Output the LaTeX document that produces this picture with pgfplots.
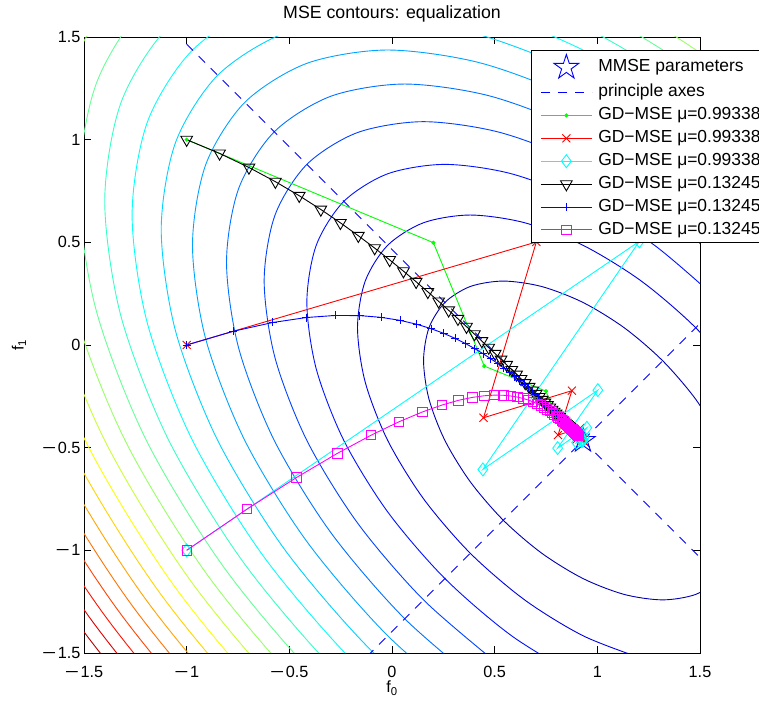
\documentclass[border=0pt]{standalone}
\usepackage{fontspec}
\setmainfont{Liberation Sans}
\usepackage{graphicx}
\usepackage{pgfplots}
\pgfplotsset{compat=1.18}
\usetikzlibrary{plotmarks}

\definecolor{c1}{rgb}{0,0,0.690}
\definecolor{c2}{rgb}{0,0,0.881}
\definecolor{c3}{rgb}{0,0.071,1}
\definecolor{c4}{rgb}{0,0.262,1}
\definecolor{c5}{rgb}{0,0.452,1}
\definecolor{c6}{rgb}{0,0.643,1}
\definecolor{c7}{rgb}{0,0.833,1}
\definecolor{c8}{rgb}{0.024,1,0.976}
\definecolor{c9}{rgb}{0.214,1,0.786}
\definecolor{c10}{rgb}{0.405,1,0.595}
\definecolor{c11}{rgb}{0.595,1,0.405}
\definecolor{c12}{rgb}{0.786,1,0.214}
\definecolor{c13}{rgb}{0.976,1,0.024}
\definecolor{c14}{rgb}{1,0.833,0}
\definecolor{c15}{rgb}{1,0.643,0}
\definecolor{c16}{rgb}{1,0.452,0}
\definecolor{c17}{rgb}{1,0.262,0}
\definecolor{c18}{rgb}{1,0.071,0}
\definecolor{c19}{rgb}{0.881,0,0}
\definecolor{c20}{rgb}{0.690,0,0}
\definecolor{mgreen}{rgb}{0,1,0}
\definecolor{mred}{rgb}{1,0,0}
\definecolor{mcyan}{rgb}{0,1,1}
\definecolor{mblue}{rgb}{0,0,1}
\definecolor{mmagenta}{rgb}{1,0,1}

\newcommand{\mn}{\scalebox{1.5}[1]{−}\hspace{1.5bp}}

\pgfdeclareplotmark{pentagram}{%
  \pgfpathmoveto{\pgfqpointpolar{90}{\pgfplotmarksize}}%
  \pgfpathlineto{\pgfqpointpolar{126}{0.382\pgfplotmarksize}}%
  \pgfpathlineto{\pgfqpointpolar{162}{\pgfplotmarksize}}%
  \pgfpathlineto{\pgfqpointpolar{198}{0.382\pgfplotmarksize}}%
  \pgfpathlineto{\pgfqpointpolar{234}{\pgfplotmarksize}}%
  \pgfpathlineto{\pgfqpointpolar{270}{0.382\pgfplotmarksize}}%
  \pgfpathlineto{\pgfqpointpolar{306}{\pgfplotmarksize}}%
  \pgfpathlineto{\pgfqpointpolar{342}{0.382\pgfplotmarksize}}%
  \pgfpathlineto{\pgfqpointpolar{18}{\pgfplotmarksize}}%
  \pgfpathlineto{\pgfqpointpolar{54}{0.382\pgfplotmarksize}}%
  \pgfpathclose
  \pgfusepathqstroke}

\pgfplotsset{
  linelegend/.style={legend image code/.code={\draw[mark repeat=2,mark phase=2,##1] plot coordinates {(0bp,0bp) (25.5bp,0bp) (51bp,0bp)};}},
  starlegend/.style={legend image code/.code={\draw[##1] plot coordinates {(25.5bp,0bp)};}},
}

\begin{document}
\begin{tikzpicture}
\useasboundingbox (-84bp,-49bp) rectangle (675bp,653bp);
\begin{axis}[
  at={(0,0)}, anchor=south west,
  scale only axis, width=616bp, height=616bp,
  xmin=-1.5, xmax=1.5, ymin=-1.5, ymax=1.5,
  xtick={-1.5,-1,-0.5,0,0.5,1,1.5},
  ytick={-1.5,-1,-0.5,0,0.5,1,1.5},
  xticklabels={\mn1.5,\mn1,\mn0.5,0,0.5,1,1.5},
  yticklabels={\mn1.5,\mn1,\mn0.5,0,0.5,1,1.5},
  tick align=inside,
  xtick pos=both, ytick pos=both,
  xticklabel pos=lower, yticklabel pos=left,
  major tick length=7bp,
  tick style={black, line width=0.9bp},
  axis line style={line width=0.9bp},
  tick label style={font=\fontsize{16.3}{19}\selectfont},
  xticklabel style={yshift=-10bp},
  title={MSE contours: equalization},
  title style={at={(axis description cs:0.5,1.0211)}, anchor=base, inner sep=0pt, font=\fontsize{17.8}{20}\selectfont},
  xlabel={f\textsubscript{0}},
  ylabel={f\textsubscript{1}},
  xlabel style={at={(axis description cs:0.5,-0.0455)}, anchor=north, inner sep=0pt, font=\fontsize{16.3}{19}\selectfont},
  ylabel style={at={(axis description cs:-0.1055,0.5)}, anchor=center, inner sep=0pt, font=\fontsize{16.3}{19}\selectfont},
  every axis plot/.append style={line width=0.9bp},
  legend cell align=left,
  linelegend,
  legend style={at={(0.7256,0.9789)}, anchor=north west, draw=black, line width=0.9bp, fill=white,
    font=\fontsize{17.5}{20}\selectfont, inner xsep=9bp, inner ysep=4bp, row sep=6.2bp, column sep=6bp,
    nodes={inner sep=0pt, text height=12.7bp, text depth=4bp}},
]
% ---- MSE contours (levels k = 1..20) ----
\addplot[color=c1, smooth, forget plot] coordinates {(1.6023,-1.1373) (1.4789,-1.2148) (1.3182,-1.2413) (1.1310,-1.2148) (0.9300,-1.1373) (0.7290,-1.0139) (0.5418,-0.8532) (0.3811,-0.6660) (0.2577,-0.4650) (0.1802,-0.2640) (0.1537,-0.0768) (0.1802,0.0839) (0.2577,0.2073) (0.3811,0.2848) (0.5418,0.3113) (0.7290,0.2848) (0.9300,0.2073) (1.1310,0.0839) (1.3182,-0.0768) (1.4789,-0.2640) (1.6023,-0.4650)};
\addplot[color=c2, smooth, forget plot] coordinates {(1.2142,-1.5254) (0.9300,-1.4158) (0.6458,-1.2413) (0.3810,-1.0140) (0.1537,-0.7492) (-0.0208,-0.4650) (-0.1304,-0.1808) (-0.1679,0.0840) (-0.1304,0.3113) (-0.0208,0.4858) (0.1537,0.5954) (0.3810,0.6329) (0.6458,0.5954) (0.9300,0.4858) (1.2142,0.3113) (1.4790,0.0840) (1.7063,-0.1808)};
\addplot[color=c3, smooth, forget plot] coordinates {(0.9300,-1.6295) (0.5819,-1.4158) (0.2576,-1.1374) (-0.0208,-0.8131) (-0.2345,-0.4650) (-0.3688,-0.1169) (-0.4146,0.2074) (-0.3688,0.4858) (-0.2345,0.6995) (-0.0208,0.8338) (0.2576,0.8796) (0.5819,0.8338) (0.9300,0.6995) (1.2781,0.4858) (1.6024,0.2074)};
\addplot[color=c4, smooth, forget plot] coordinates {(0.5281,-1.5629) (0.1536,-1.2414) (-0.1679,-0.8669) (-0.4146,-0.4650) (-0.5696,-0.0631) (-0.6226,0.3114) (-0.5696,0.6329) (-0.4146,0.8796) (-0.1679,1.0346) (0.1536,1.0876) (0.5281,1.0346) (0.9300,0.8796) (1.3319,0.6329) (1.7064,0.3114)};
\addplot[color=c5, smooth, forget plot] coordinates {(0.4807,-1.6924) (0.0620,-1.3330) (-0.2974,-0.9143) (-0.5733,-0.4650) (-0.7466,-0.0157) (-0.8059,0.4030) (-0.7466,0.7624) (-0.5733,1.0383) (-0.2974,1.2116) (0.0620,1.2709) (0.4807,1.2116) (0.9300,1.0383) (1.3793,0.7624) (1.7980,0.4030)};
\addplot[color=c6, smooth, forget plot] coordinates {(0.4378,-1.8096) (-0.0209,-1.4159) (-0.4146,-0.9572) (-0.7168,-0.4650) (-0.9067,0.0272) (-0.9716,0.4859) (-0.9067,0.8796) (-0.7168,1.1818) (-0.4146,1.3717) (-0.0209,1.4366) (0.4378,1.3717) (0.9300,1.1818) (1.4222,0.8796) (1.8809,0.4859)};
\addplot[color=c7, smooth, forget plot] coordinates {(0.3983,-1.9173) (-0.0970,-1.4920) (-0.5223,-0.9967) (-0.8487,-0.4650) (-1.0538,0.0667) (-1.1239,0.5620) (-1.0538,0.9873) (-0.8487,1.3137) (-0.5223,1.5188) (-0.0970,1.5889) (0.3983,1.5188) (0.9300,1.3137) (1.4617,0.9873) (1.9570,0.5620)};
\addplot[color=c8, smooth, forget plot] coordinates {(0.3616,-2.0176) (-0.1679,-1.5629) (-0.6226,-1.0334) (-0.9715,-0.4650) (-1.1907,0.1034) (-1.2657,0.6329) (-1.1907,1.0876) (-0.9715,1.4365) (-0.6226,1.6557) (-0.1679,1.7307) (0.3616,1.6557) (0.9300,1.4365) (1.4984,1.0876) (2.0279,0.6329)};
\addplot[color=c9, smooth, forget plot] coordinates {(0.3271,-2.1118) (-0.2346,-1.6296) (-0.7168,-1.0679) (-1.0869,-0.4650) (-1.3194,0.1379) (-1.3989,0.6996) (-1.3194,1.1818) (-1.0869,1.5519) (-0.7168,1.7844) (-0.2346,1.8639) (0.3271,1.7844) (0.9300,1.5519) (1.5329,1.1818) (2.0946,0.6996)};
\addplot[color=c10, smooth, forget plot] coordinates {(0.2945,-2.2009) (-0.2976,-1.6926) (-0.8059,-1.1005) (-1.1960,-0.4650) (-1.4411,0.1705) (-1.5249,0.7626) (-1.4411,1.2709) (-1.1960,1.6610) (-0.8059,1.9061) (-0.2976,1.9899) (0.2945,1.9061) (0.9300,1.6610) (1.5655,1.2709) (2.1576,0.7626)};
\addplot[color=c11, smooth, forget plot] coordinates {(0.2635,-2.2856) (-0.3575,-1.7525) (-0.8906,-1.1315) (-1.2998,-0.4650) (-1.5569,0.2015) (-1.6447,0.8225) (-1.5569,1.3556) (-1.2998,1.7648) (-0.8906,2.0219) (-0.3575,2.1097) (0.2635,2.0219) (0.9300,1.7648) (1.5965,1.3556) (2.2175,0.8225)};
\addplot[color=c12, smooth, forget plot] coordinates {(0.9300,-2.7939) (0.2339,-2.3666) (-0.4147,-1.8097) (-0.9716,-1.1611) (-1.3989,-0.4650) (-1.6674,0.2311) (-1.7592,0.8797) (-1.6674,1.4366)};
\addplot[color=c13, smooth, forget plot] coordinates {(0.9300,-2.8890) (0.2055,-2.4442) (-0.4696,-1.8646) (-1.0492,-1.1895) (-1.4940,-0.4650) (-1.7735,0.2595) (-1.8690,0.9340) (-1.7735,1.5142)};
\addplot[color=c14, smooth, forget plot] coordinates {(0.9300,-2.9805) (0.1781,-2.5189) (-0.5225,-1.9175) (-1.1239,-1.2169) (-1.5855,-0.4650) (-1.8755,0.2869) (-1.9747,0.9875) (-1.8755,1.5889)};
\addplot[color=c15, smooth, forget plot] coordinates {(0.9300,-3.0688) (0.1517,-2.5910) (-0.5734,-1.9684) (-1.1960,-1.2433) (-1.6738,-0.4650) (-1.9740,0.3133) (-2.0766,1.0384) (-1.9740,1.6610)};
\addplot[color=c16, smooth, forget plot] coordinates {(0.9300,-3.1542) (0.1262,-2.6607) (-0.6228,-2.0178) (-1.2657,-1.2688) (-1.7592,-0.4650) (-2.0693,0.3388) (-2.1752,1.0878) (-2.0693,1.7307)};
\addplot[color=c17, smooth, forget plot] coordinates {(0.9300,-3.2370) (0.1015,-2.7283) (-0.6705,-2.0655) (-1.3333,-1.2935) (-1.8420,-0.4650) (-2.1616,0.3635) (-2.2709,1.1355) (-2.1616,1.7983)};
\addplot[color=c18, smooth, forget plot] coordinates {(0.9300,-3.3173) (0.0774,-2.7939) (-0.7169,-2.1119) (-1.3989,-1.3176) (-1.9223,-0.4650) (-2.2512,0.3876) (-2.3636,1.1819) (-2.2512,1.8639)};
\addplot[color=c19, smooth, forget plot] coordinates {(0.9300,-3.3955) (0.0541,-2.8578) (-0.7621,-2.1571) (-1.4628,-1.3409) (-2.0005,-0.4650) (-2.3384,0.4109) (-2.4539,1.2271) (-2.3384,1.9278)};
\addplot[color=c20, smooth, forget plot] coordinates {(0.9300,-3.4716) (0.0313,-2.9199) (-0.8060,-2.2010) (-1.5249,-1.3637) (-2.0766,-0.4650) (-2.4233,0.4337) (-2.5417,1.2710) (-2.4233,1.8899)};

% ---- MMSE point and principal axes ----
\addplot[color=mblue, only marks, mark=pentagram, mark size=13bp, starlegend] coordinates {(0.93,-0.465)};
\addlegendentry{MMSE parameters\hspace*{60bp}}
\addplot[color=mblue, dash pattern=on 9bp off 8bp] coordinates {(-1.0,1.465) (2.86,-2.395)};
\addlegendentry{principle axes}
\addplot[color=mblue, dash pattern=on 9bp off 8bp, forget plot] coordinates {(-1.0,-2.395) (2.86,1.465)};

% ---- gradient descent trajectories ----
\addplot[color=mgreen, mark=*, mark size=1.6bp] coordinates {(-1.0000,1.0000) (0.2015,0.4983) (0.4492,-0.1027) (0.7499,-0.2250) (0.8102,-0.3754) (0.8855,-0.4052) (0.9001,-0.4429) (0.9190,-0.4501) (0.9226,-0.4595) (0.9273,-0.4617) (0.9281,-0.4636) (0.9294,-0.4642) (0.9296,-0.4647)};
\addlegendentry{GD−MSE μ=0.99338\hspace*{60bp}}
\addplot[color=mred, mark=x, mark size=5.7bp] coordinates {(-1.0000,0.0000) (0.7031,0.5017) (0.4458,-0.3544) (0.8761,-0.2225) (0.8085,-0.4388) (0.9172,-0.4041) (0.8995,-0.4588) (0.9270,-0.4498) (0.9223,-0.4636) (0.9293,-0.4612) (0.9281,-0.4647) (0.9297,-0.4641) (0.9295,-0.4652)};
\addlegendentry{GD−MSE μ=0.99338\hspace*{60bp}}
\addplot[color=mcyan, mark=diamond, mark size=6.5bp] coordinates {(-1.0000,-1.0000) (1.2048,0.5050) (0.4425,-0.6061) (1.0024,-0.2200) (0.8068,-0.5021) (0.9490,-0.4031) (0.8989,-0.4748) (0.9350,-0.4494) (0.9221,-0.4676) (0.9313,-0.4610) (0.9280,-0.4657) (0.9307,-0.4640) (0.9297,-0.4653)};
\addlegendentry{GD−MSE μ=0.99338\hspace*{60bp}}
\addplot[color=black, mark=triangle, mark size=6.75bp, mark options={rotate=180}] coordinates {(-1.0000,1.0000) (-0.8398,0.9331) (-0.6966,0.8645) (-0.5679,0.7954) (-0.4518,0.7270) (-0.3467,0.6600) (-0.2512,0.5949) (-0.1640,0.5321) (-0.0844,0.4719) (-0.0113,0.4144) (0.0558,0.3597) (0.1175,0.3079) (0.1745,0.2588) (0.2272,0.2125) (0.2759,0.1689) (0.3210,0.1279) (0.3628,0.0893) (0.4016,0.0531) (0.4376,0.0191) (0.4711,-0.0127) (0.5023,-0.0425) (0.5312,-0.0704) (0.5582,-0.0965) (0.5833,-0.1210) (0.6066,-0.1438) (0.6284,-0.1651) (0.6487,-0.1851) (0.6676,-0.2037) (0.6852,-0.2211) (0.7017,-0.2374) (0.7170,-0.2525) (0.7313,-0.2667) (0.7446,-0.2800) (0.7570,-0.2923) (0.7686,-0.3038) (0.7794,-0.3146) (0.7895,-0.3246) (0.7989,-0.3340) (0.8077,-0.3428) (0.8159,-0.3509) (0.8235,-0.3585) (0.8306,-0.3657) (0.8373,-0.3723) (0.8435,-0.3785) (0.8493,-0.3843) (0.8547,-0.3897) (0.8597,-0.3947) (0.8644,-0.3994) (0.8688,-0.4038) (0.8729,-0.4079) (0.8767,-0.4117)};
\addlegendentry{GD−MSE μ=0.13245\hspace*{60bp}}
\addplot[color=mblue, mark=+, mark size=4bp] coordinates {(-1.0000,0.0000) (-0.7729,0.0669) (-0.5807,0.1096) (-0.4170,0.1338) (-0.2769,0.1438) (-0.1562,0.1431) (-0.0515,0.1344) (0.0397,0.1199) (0.1197,0.1012) (0.1902,0.0796) (0.2527,0.0563) (0.3085,0.0318) (0.3584,0.0069) (0.4033,-0.0180) (0.4438,-0.0425) (0.4806,-0.0665) (0.5141,-0.0898) (0.5446,-0.1121) (0.5726,-0.1336) (0.5982,-0.1540) (0.6218,-0.1734) (0.6435,-0.1918) (0.6636,-0.2092) (0.6821,-0.2256) (0.6993,-0.2410) (0.7151,-0.2556) (0.7299,-0.2692) (0.7436,-0.2820) (0.7563,-0.2940) (0.7681,-0.3053) (0.7790,-0.3158) (0.7893,-0.3257) (0.7988,-0.3349) (0.8076,-0.3435) (0.8159,-0.3516) (0.8235,-0.3592) (0.8307,-0.3662) (0.8374,-0.3728) (0.8436,-0.3789) (0.8494,-0.3846) (0.8548,-0.3900) (0.8599,-0.3950) (0.8645,-0.3997) (0.8689,-0.4040) (0.8730,-0.4081) (0.8768,-0.4119) (0.8804,-0.4155) (0.8837,-0.4188) (0.8868,-0.4219) (0.8897,-0.4247) (0.8924,-0.4274)};
\addlegendentry{GD−MSE μ=0.13245\hspace*{60bp}}
\addplot[color=mmagenta, mark=square, mark size=4.7bp] coordinates {(-1.0000,-1.0000) (-0.7060,-0.7993) (-0.4648,-0.6452) (-0.2662,-0.5278) (-0.1020,-0.4394) (0.0344,-0.3738) (0.1481,-0.3261) (0.2434,-0.2924) (0.3237,-0.2695) (0.3917,-0.2551) (0.4497,-0.2472) (0.4994,-0.2442) (0.5422,-0.2449) (0.5794,-0.2484) (0.6118,-0.2540) (0.6402,-0.2609) (0.6654,-0.2688) (0.6876,-0.2774) (0.7075,-0.2863) (0.7253,-0.2953) (0.7413,-0.3043) (0.7558,-0.3132) (0.7690,-0.3218) (0.7809,-0.3302) (0.7919,-0.3383) (0.8019,-0.3460) (0.8111,-0.3533) (0.8195,-0.3603) (0.8273,-0.3669) (0.8345,-0.3732) (0.8411,-0.3791) (0.8472,-0.3846) (0.8529,-0.3898) (0.8582,-0.3947) (0.8631,-0.3993) (0.8677,-0.4037) (0.8719,-0.4077) (0.8758,-0.4115) (0.8795,-0.4150) (0.8829,-0.4184) (0.8861,-0.4214) (0.8890,-0.4243) (0.8918,-0.4270) (0.8944,-0.4295) (0.8968,-0.4319) (0.8990,-0.4341) (0.9011,-0.4362) (0.9030,-0.4381) (0.9049,-0.4399) (0.9065,-0.4415) (0.9081,-0.4431)};
\addlegendentry{GD−MSE μ=0.13245\hspace*{60bp}}
\end{axis}
\end{tikzpicture}
\end{document}
